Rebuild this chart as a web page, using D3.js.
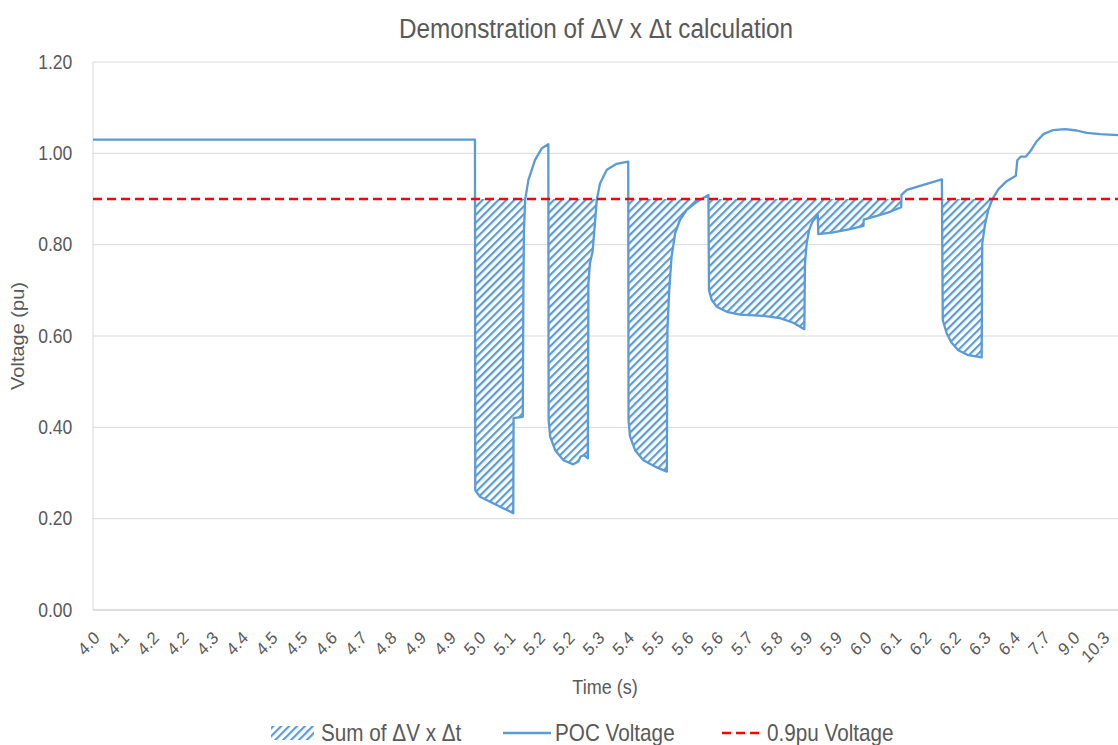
<!DOCTYPE html>
<html>
<head>
<meta charset="utf-8">
<script src="https://cdn.jsdelivr.net/npm/d3@7"></script>
<style>
  body { margin: 0; background: #ffffff; }
  text { font-family: "Liberation Sans", Arial, sans-serif; fill: #595959; }
</style>
</head>
<body>
<svg id="chart" width="1118" height="745"></svg>
<script>
// ---------------- data ----------------
const chartTitle = "Demonstration of ΔV x Δt calculation";
const xAxisTitle = "Time (s)";
const yAxisTitle = "Voltage (pu)";
const legendLabels = ["Sum of ΔV x Δt", "POC Voltage", "0.9pu Voltage"];

const xTickLabels = ["4.0","4.1","4.2","4.2","4.3","4.4","4.5","4.5","4.6","4.7","4.8","4.9","4.9",
  "5.0","5.1","5.2","5.2","5.3","5.4","5.5","5.6","5.6","5.7","5.8","5.9","5.9",
  "6.0","6.1","6.2","6.2","6.3","6.4","7.7","9.0","10.3"];
const yTicks = [0, 0.2, 0.4, 0.6, 0.8, 1.0, 1.2];

// sample position along the category axis (in tick-label units) and POC voltage (pu)
const pocPosition = [0,12.86,12.87,13.03,13.37,13.81,14.15,14.16,14.47,14.49,14.51,14.55,14.66,14.88,15.11,15.33,
  15.34,15.39,15.56,15.84,16.17,16.34,16.42,16.53,16.66,16.68,16.73,16.82,16.88,16.96,17.07,17.30,17.63,18.02,
  18.03,18.08,18.25,18.53,18.92,19.32,19.34,19.40,19.48,19.60,19.76,19.99,20.33,20.72,
  20.74,20.83,21.00,21.34,21.78,22.57,23.13,23.58,23.95,23.97,24.03,24.11,24.22,24.40,
  24.42,24.93,25.49,25.94,25.95,26.39,26.84,27.21,27.22,27.40,27.96,28.58,
  28.61,28.74,28.91,29.13,29.47,29.92,29.94,30.03,30.14,30.29,30.48,30.76,31.07,
  31.12,31.24,31.41,31.55,31.77,32.00,32.33,32.73,33.12,33.46,33.91,34.51];
const pocVoltage = [1.03,1.03,0.262,0.248,0.237,0.223,0.212,0.42,0.423,0.70,0.832,0.898,0.942,0.985,1.011,1.020,
  0.416,0.38,0.350,0.328,0.319,0.325,0.336,0.339,0.332,0.715,0.759,0.785,0.832,0.898,0.934,0.964,0.977,0.982,
  0.416,0.38,0.350,0.328,0.314,0.303,0.613,0.70,0.774,0.825,0.854,0.876,0.894,0.909,
  0.70,0.679,0.664,0.653,0.647,0.644,0.639,0.629,0.615,0.759,0.803,0.832,0.850,0.865,
  0.823,0.827,0.834,0.841,0.855,0.863,0.872,0.882,0.909,0.920,0.931,0.943,
  0.635,0.606,0.585,0.569,0.558,0.553,0.803,0.843,0.876,0.901,0.921,0.939,0.951,
  0.985,0.993,0.993,1.004,1.026,1.042,1.051,1.053,1.050,1.045,1.042,1.040];
const thresholdVoltage = 0.9;

// ---------------- layout ----------------
const plot = { left: 93, right: 1118, top: 62, bottom: 610 };
const blue = "#5B9BD5", red = "#FF0000", grid = "#D9D9D9", textCol = "#595959";
const squish = 0.9; // horizontal text compression seen in the reference

const svg = d3.select("#chart");
const points = pocPosition.map((p, i) => ({ p, v: pocVoltage[i] }));

const x = d3.scaleLinear().domain([0, d3.max(pocPosition)]).range([plot.left, plot.right]);
const y = d3.scaleLinear().domain([0, 1.2]).range([plot.bottom, plot.top]);

// defs: hatch pattern and clip
const defs = svg.append("defs");
const pat = defs.append("pattern").attr("id", "hatch")
  .attr("patternUnits", "userSpaceOnUse").attr("width", 5.6).attr("height", 10)
  .attr("patternTransform", "rotate(45)");
pat.append("rect").attr("width", 5.6).attr("height", 10).attr("fill", "#fff");
pat.append("rect").attr("width", 2.2).attr("height", 10).attr("fill", blue);

defs.append("clipPath").attr("id", "below").append("rect")
  .attr("x", plot.left).attr("y", y(thresholdVoltage))
  .attr("width", plot.right - plot.left).attr("height", y(0) - y(thresholdVoltage));

// gridlines
svg.append("g").selectAll("line").data(yTicks).join("line")
  .attr("x1", plot.left).attr("x2", plot.right)
  .attr("y1", d => y(d)).attr("y2", d => y(d))
  .attr("stroke", d => d === 0 ? "#BFBFBF" : grid).attr("stroke-width", 1);
svg.append("line").attr("x1", plot.left).attr("x2", plot.left)
  .attr("y1", y(1.2)).attr("y2", y(0)).attr("stroke", grid);

// y axis labels
const yAxis = svg.append("g").attr("transform", `translate(${plot.left},0)`)
  .call(d3.axisLeft(y).tickValues(yTicks).tickFormat(d3.format(".2f")).tickSize(0).tickPadding(23));
yAxis.select(".domain").remove();
yAxis.selectAll("text").attr("font-size", 19.5).attr("fill", textCol)
  .attr("font-family", "Liberation Sans, Arial, sans-serif")
  .attr("transform", `scale(${squish},1)`);

// x axis labels
const xAxis = svg.append("g").attr("transform", `translate(0,${plot.bottom})`)
  .call(d3.axisBottom(x).tickValues(d3.range(xTickLabels.length)).tickFormat(i => xTickLabels[i]).tickSize(0));
xAxis.select(".domain").remove();
xAxis.selectAll("text").attr("font-size", 18).attr("fill", textCol)
  .attr("font-family", "Liberation Sans, Arial, sans-serif")
  .attr("text-anchor", "end").attr("y", 0).attr("dy", 0)
  .attr("transform", `translate(7,29) scale(${squish},1) rotate(-45)`);

// hatched area between threshold and voltage (where below threshold)
svg.append("path").datum(points)
  .attr("clip-path", "url(#below)")
  .attr("fill", "url(#hatch)")
  .attr("d", d3.area().x(d => x(d.p)).y0(y(thresholdVoltage)).y1(d => y(d.v)));

// POC voltage line
svg.append("path").datum(points)
  .attr("fill", "none").attr("stroke", blue).attr("stroke-width", 2.3)
  .attr("stroke-linejoin", "round")
  .attr("d", d3.line().x(d => x(d.p)).y(d => y(d.v)));

// threshold line
svg.append("line")
  .attr("x1", plot.left).attr("x2", plot.right)
  .attr("y1", y(thresholdVoltage)).attr("y2", y(thresholdVoltage))
  .attr("stroke", red).attr("stroke-width", 2.5).attr("stroke-dasharray", "9,5");

// titles
svg.append("text").attr("transform", `translate(596,38) scale(${squish},1)`)
  .attr("text-anchor", "middle").attr("font-size", 27).text(chartTitle);
svg.append("text").attr("transform", `translate(605,694) scale(${squish},1)`)
  .attr("text-anchor", "middle").attr("font-size", 20).text(xAxisTitle);
svg.append("text").attr("transform", `translate(24,${(plot.top + plot.bottom) / 2}) scale(${squish},1) rotate(-90)`)
  .attr("text-anchor", "middle").attr("font-size", 20).text(yAxisTitle);

// legend
const legendY = 733;
const lg = svg.append("g");
lg.append("rect").attr("x", 271).attr("y", legendY - 7).attr("width", 43).attr("height", 14).attr("fill", "url(#hatch)");
lg.append("line").attr("x1", 503).attr("x2", 551).attr("y1", legendY).attr("y2", legendY)
  .attr("stroke", blue).attr("stroke-width", 2.3);
lg.append("line").attr("x1", 722).attr("x2", 764).attr("y1", legendY).attr("y2", legendY)
  .attr("stroke", red).attr("stroke-width", 2.5).attr("stroke-dasharray", "9,5");
const legendTextX = [321, 555, 767];
legendLabels.forEach((t, i) => {
  lg.append("text").attr("transform", `translate(${legendTextX[i]},${legendY + 8}) scale(${squish},1)`)
    .attr("font-size", 23).text(t);
});
</script>
</body>
</html>
